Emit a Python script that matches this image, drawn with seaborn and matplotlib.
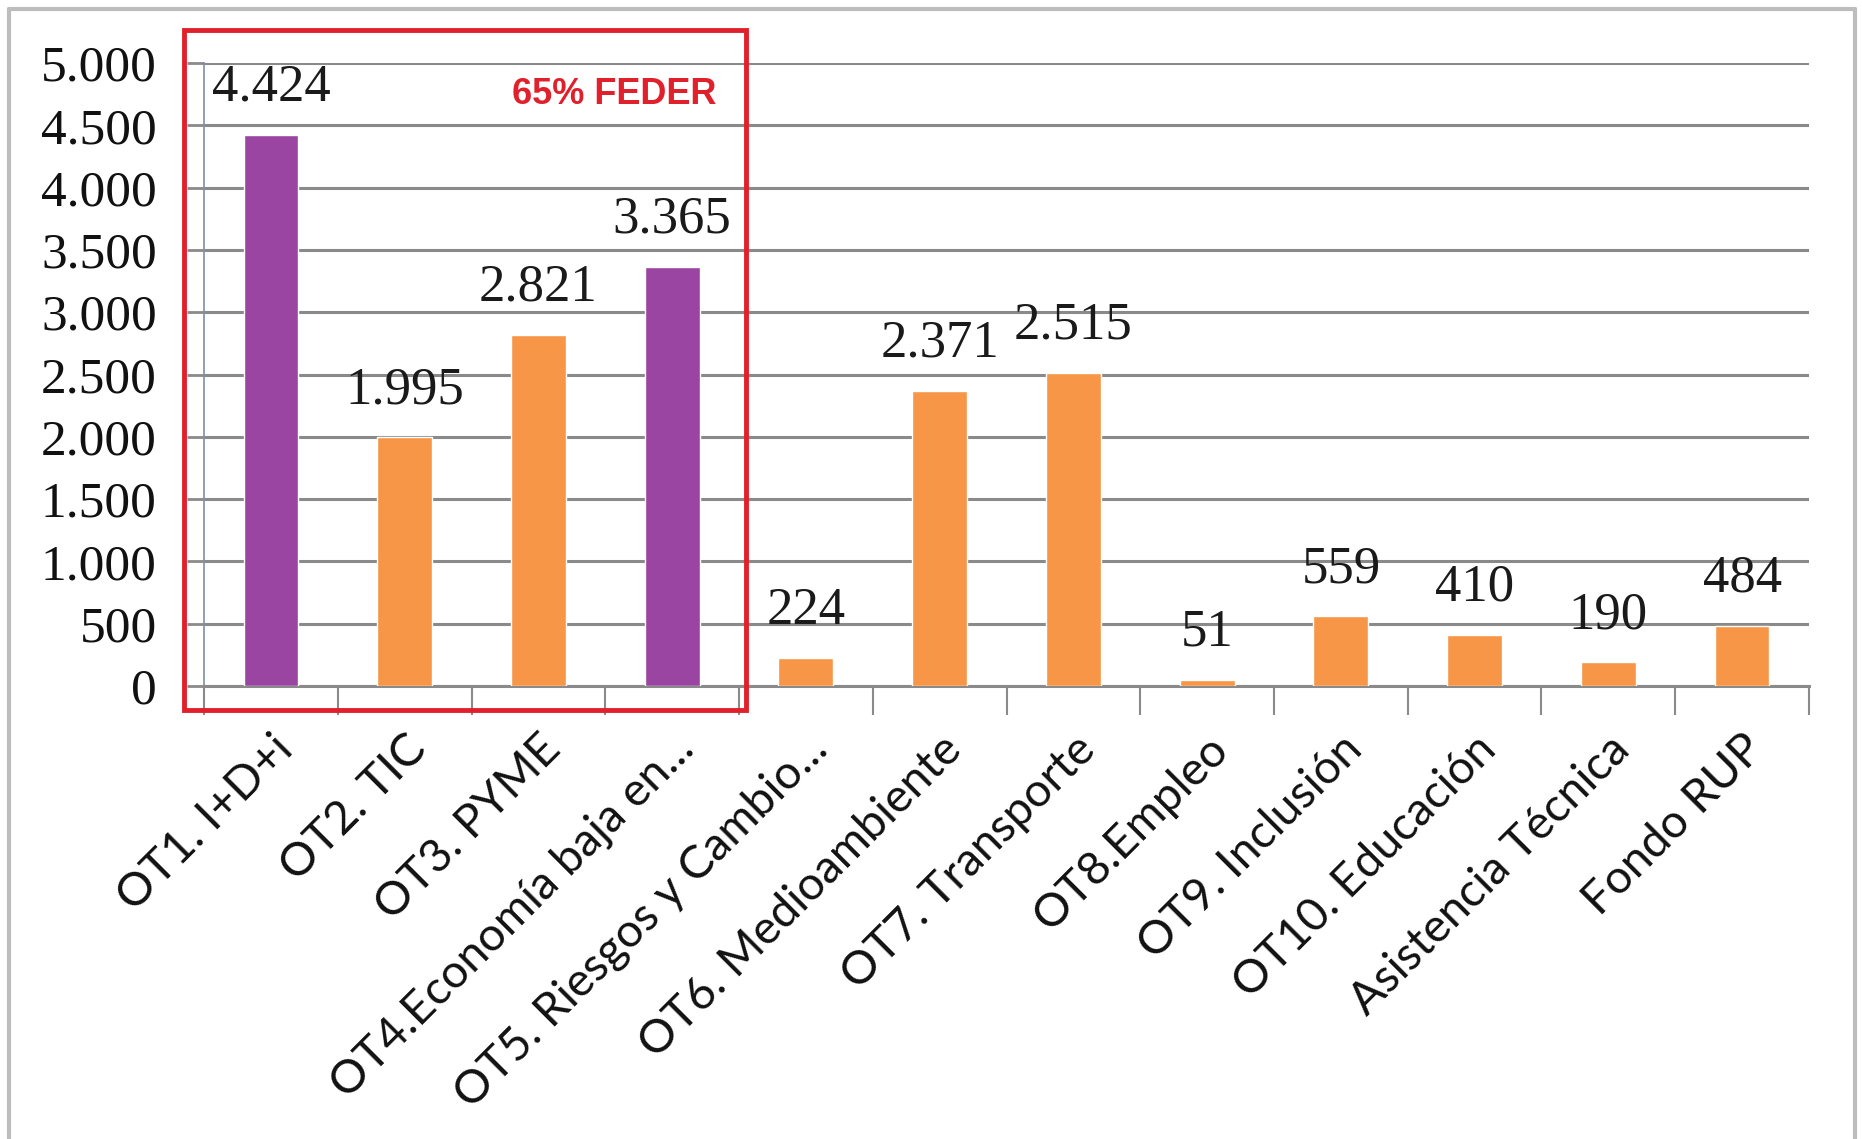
import matplotlib
matplotlib.use("Agg")
import matplotlib.pyplot as plt
import seaborn as sns
import pandas as pd
from matplotlib.patches import Rectangle
from matplotlib.lines import Line2D

categories = [
    "OT1. I+D+i", "OT2. TIC", "OT3. PYME", "OT4.Economía baja en...",
    "OT5. Riesgos y Cambio...", "OT6. Medioambiente", "OT7. Transporte",
    "OT8.Empleo", "OT9. Inclusión", "OT10. Educación",
    "Asistencia Técnica", "Fondo RUP",
]
values = [4424, 1995, 2821, 3365, 224, 2371, 2515, 51, 559, 410, 190, 484]
groups = ["p", "o", "o", "p", "o", "o", "o", "o", "o", "o", "o", "o"]
yticks = [0, 500, 1000, 1500, 2000, 2500, 3000, 3500, 4000, 4500, 5000]

PURPLE = "#9b45a3"
ORANGE = "#f79646"
RED = "#e0202a"

sns.set_theme(style="white")
plt.rcParams["font.family"] = ["Liberation Serif", "DejaVu Serif"]

df = pd.DataFrame({"cat": categories, "val": values, "grp": groups})
palette = {c: (PURPLE if g == "p" else ORANGE) for c, g in zip(categories, groups)}

fig = plt.figure(figsize=(18.62, 11.39), dpi=100)
ax = fig.add_axes([0.1096, 0.3977, 0.8619, 0.547])

sns.barplot(data=df, x="cat", y="val", hue="cat", palette=palette,
            width=0.41, saturation=1, legend=False, ax=ax, zorder=3)

ax.set_ylim(0, 5000)
ax.set_xlim(-0.5, len(categories) - 0.5)
ax.set_yticks(yticks)
ax.set_yticklabels([f"{t:,}".replace(",", ".") for t in yticks], fontsize=37, color="#111111")
ax.yaxis.grid(True, color="#8a8a8a", linewidth=2.2, zorder=0)
ax.set_axisbelow(True)
ax.set_xlabel("")
ax.set_ylabel("")

for s in ["top", "right"]:
    ax.spines[s].set_visible(False)
ax.spines["left"].set_color("#7f8fa6")
ax.spines["left"].set_linewidth(1.2)
ax.spines["bottom"].set_color("#8a8a8a")
ax.spines["bottom"].set_linewidth(2.2)

ax.tick_params(axis="y", length=12, width=2, color="#8a8a8a", pad=22, direction="out", left=True)
ax.set_xticks(range(len(categories)))
ax.set_xticklabels(categories, rotation=45, ha="right", rotation_mode="anchor",
                   fontsize=33.5, family=["Lato", "DejaVu Sans"], color="#111111")
ax.tick_params(axis="x", length=0, pad=30)
ax.set_xticks([i - 0.5 for i in range(len(categories) + 1)], minor=True)
ax.tick_params(axis="x", which="minor", length=21, width=1.5, color="#8a8a8a", direction="out", bottom=True)

for i, v in enumerate(values):
    ax.annotate(f"{v:,}".replace(",", "."), (i, v), xytext=(0, 34), textcoords="offset points",
                ha="center", va="center", fontsize=38, color="#1a1a1a")

# highlight box around the first four objectives
fig.patches.append(Rectangle((0.0988, 0.3766), 0.3018, 0.5971, transform=fig.transFigure,
                             fill=False, edgecolor=RED, linewidth=3.5, zorder=10))
fig.text(0.330, 0.9166, "65% FEDER", color=RED, fontsize=26, fontweight="bold",
         family=["Liberation Sans", "DejaVu Sans"], ha="center", va="center")

# outer frame
for xs, ys in [([0.005, 0.005], [0, 0.992]), ([0.005, 0.996], [0.992, 0.992]),
               ([0.996, 0.996], [0, 0.992])]:
    fig.lines.append(Line2D(xs, ys, transform=fig.transFigure, color="#bdbdbd", linewidth=3))

fig.savefig("out.png", dpi=100, facecolor="white")
